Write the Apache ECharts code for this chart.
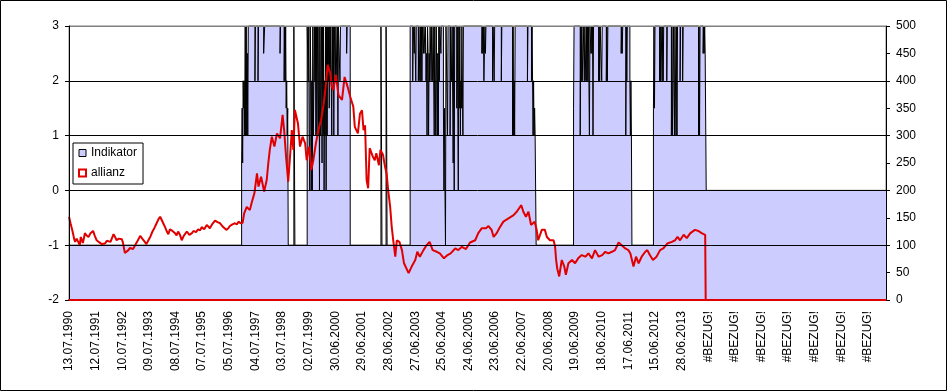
<!DOCTYPE html>
<html>
<head>
<meta charset="utf-8">
<script src="https://cdn.jsdelivr.net/npm/echarts@6/dist/echarts.min.js"></script>
<style>
html,body{margin:0;padding:0;background:#fff;}
#chart{width:948px;height:392px;}
</style>
</head>
<body>
<div id="chart"></div>
<script>
// x values are week numbers counted from 13.07.1990 (52 weeks between tick labels)
const tickLabels = ['13.07.1990','12.07.1991','10.07.1992','09.07.1993','08.07.1994','07.07.1995','05.07.1996','04.07.1997','03.07.1998','02.07.1999','30.06.2000','29.06.2001','28.06.2002','27.06.2003','25.06.2004','24.06.2005','23.06.2006','22.06.2007','20.06.2008','19.06.2009','18.06.2010','17.06.2011','15.06.2012','28.06.2013','#BEZUG!','#BEZUG!','#BEZUG!','#BEZUG!','#BEZUG!','#BEZUG!','#BEZUG!'];
const weeksPerLabel = 52;
const lastWeek = 1595;

// Indikator: [week, value] – value holds from that week until the next entry
const indikator = [
[0,-1],
[337,0.5],[338,1.5],[339,0.5],[340,2],[341,1.5],[342,2],[343,1],[344,3],[345,1],[346,3],[347,1],[348,2.5],[349,1],[350,3],
[363,2],[364,3],[369,2],[370,3],[380,2.5],[382,3],[412,2.5],[413,3],[420,2],[421,3],
[422,2],[423,3],[424,1.5],[425,2],[426,1],[427,1.5],[428,-1],
[439,3],[441,-1],
[465,3],[467,2],[468,3],[469,1],[470,0],[471,3],[472,2],[473,0],[474,2],[475,0],[476,3],[477,1],[478,2],[479,3],[480,2],[481,3],[482,1],[483,3],
[484,1],[485,3],[486,2],[487,1],[488,3],[489,0],[490,3],[491,1],[492,2],[493,3],[494,0.5],[495,3],[496,1],[497,3],[498,0],[499,2],[500,1],[501,3],[502,0],[503,3],[504,1],[505,3],
[506,2],[507,3],[508,1.5],[509,3],[510,2],[511,3],[513,1],[514,3],[515,2],[516,3],[517,1],[518,3],[520,2],[521,3],[523,2],[524,3],[525,1],[526,3],[529,2],[530,3],[542,2.5],[543,3],[549,-1],
[609,3],[611,-1],[619,3],[620,1.5],[621,-1],
[666,3],[671,2],[672,3],[674,2.5],[675,3],[677,2],[678,3],[682,2],[683,3],[685,2],[686,3],[687,2],[688,3],[689,2],[690,3],[692,2.5],[693,3],
[695,2.5],[696,3],[697,2],[698,2.5],[699,1],[700,3],[701,2.5],[702,1],[703,2.5],[704,2],[705,3],[707,2],[708,3],[710,2],[711,3],
[713,1],[714,3],[716,1],[717,3],[719,1],[720,2.5],[721,1],[722,3],[723,2],[724,3],[726,2.5],[727,3],
[731,1.5],[732,0],[733,1.5],[734,0],[735,-1],[736,3],
[739,1],[740,3],[744,1],[745,3],[747,2],[748,3],[750,0.5],[751,3],[752,0],[753,3],[757,1.5],[758,3],[760,0],[761,3],
[762,1.5],[763,3],[764,1],[765,2],[766,1.5],[767,3],[769,1],[770,3],
[806,2.5],[807,3],[808,2.5],[809,3],[810,2],[811,2.5],[812,3],[813,2.5],[814,3],
[827,2],[828,3],[830,2],[831,3],[844,2],[845,3],
[866,1],[867,3],[868,1],[869,2],[870,1],[871,3],[895,2],[896,3],
[903,2],[904,3],[905,2],[906,1],[907,2],[908,1],[909,1.5],[910,1],[912,-1],
[985,1.5],[986,3],
[998,1],[999,3],[1000,2],[1001,3],[1002,2],[1003,2.5],[1004,3],[1006,2],[1007,3],
[1009,2],[1010,3],[1011,2],[1012,3],[1013,2],[1014,3],[1016,1],[1017,3],
[1019,2.5],[1020,3],[1021,2.5],[1022,3],[1023,1],[1024,3],
[1034,2],[1035,3],[1036,2],[1037,3],[1040,2],[1041,3],[1049,2],[1050,3],[1051,2],[1052,3],
[1078,2.5],[1079,3],[1080,2.5],[1081,3],[1087,1],[1088,3],[1089,2],[1090,3],
[1095,2],[1096,1],[1097,2],[1098,1],[1099,-1],
[1141,1.5],[1142,3],[1143,1.5],[1144,3],
[1153,2],[1154,3],[1155,2],[1156,3],[1158,2],[1159,3],[1160,2],[1161,3],[1167,2],[1168,3],
[1176,1],[1177,3],[1178,1],[1179,2],[1180,3],[1182,1],[1183,3],[1185,1],[1186,3],[1187,1],[1188,3],
[1193,2],[1194,3],[1198,2],[1199,3],[1229,1],[1230,3],[1231,1],[1232,3],
[1238,2.5],[1239,3],[1240,2.5],[1241,3],[1242,2.5],[1244,0],[1595,0]
];

// allianz: [week, price] on the right axis
const allianz = [
[0,152],[3,140],[7,125],[10,112],[12,106],[15,112],[18,109],[21,100],[23,115],[25,110],[27,104],[29,112],[31,122],[34,118],[38,115],[42,122],[47,126],[50,118],[54,109],[58,106],[64,102],[67,100],[70,103],[74,108],[77,111],[81,106],[87,120],[90,115],[93,109],[97,112],[100,115],[103,111],[105,106],[107,96],[109,86],[112,88],[116,91],[119,95],[122,97],[125,93],[129,100],[134,108],[139,117],[143,112],[148,106],[151,102],[155,109],[159,116],[163,125],[167,132],[171,140],[175,148],[178,152],[181,146],[184,140],[188,132],[191,125],[194,120],[197,129],[202,126],[207,122],[210,118],[213,125],[217,118],[220,109],[224,117],[230,125],[235,119],[240,122],[243,126],[248,124],[252,129],[256,127],[259,133],[264,129],[269,137],[272,134],[275,131],[280,139],[285,145],[290,142],[295,140],[301,133],[307,128],[311,131],[314,135],[319,138],[324,140],[328,138],[331,143],[335,140],[339,141],
[342,158],[347,170],[353,164],[357,179],[362,195],[367,231],[370,207],[375,225],[381,198],[386,219],[389,249],[392,274],[396,298],[401,280],[406,304],[412,295],[417,338],[420,310],[424,259],[428,216],[432,268],[435,310],[438,274],[441,347],[447,322],[451,280],[456,298],[461,286],[464,255],[469,280],[473,237],[477,255],[482,286],[487,310],[492,328],[497,356],[501,389],[505,429],[510,414],[513,389],[516,383],[521,411],[526,374],[533,365],[538,407],[544,389],[549,371],[555,353],[558,316],[564,304],[568,340],[572,346],[575,310],[578,319],[581,219],[584,204],[587,277],[593,262],[597,255],[600,268],[605,246],[608,274],[613,265],[617,243],[620,231],[623,201],[627,170],[630,134],[633,109],[637,79],[640,109],[645,106],[650,91],[654,67],[663,49],[669,61],[676,73],[680,88],[685,79],[692,91],[698,100],[704,106],[710,91],[718,88],[724,85],[732,76],[739,82],[745,85],[754,94],[760,91],[767,97],[775,93],[783,105],[793,109],[799,122],[806,131],[814,131],[819,135],[825,128],[829,115],[835,122],[840,131],[848,143],[858,149],[868,155],[874,161],[883,173],[887,161],[892,152],[897,161],[902,137],[909,143],[913,128],[916,109],[923,128],[929,128],[933,115],[939,109],[946,109],[949,97],[951,73],[953,58],[957,43],[962,73],[967,61],[970,46],[975,67],[982,73],[988,67],[994,76],[1001,82],[1008,79],[1014,85],[1021,76],[1027,91],[1034,79],[1041,82],[1047,88],[1053,85],[1060,88],[1066,91],[1073,105],[1079,100],[1086,94],[1092,91],[1096,85],[1099,73],[1102,61],[1107,79],[1112,67],[1118,79],[1125,88],[1129,91],[1134,82],[1140,73],[1147,79],[1154,91],[1160,94],[1168,103],[1177,106],[1183,109],[1188,115],[1193,109],[1200,119],[1206,113],[1213,122],[1222,128],[1229,126],[1235,122],[1242,119],[1243,0],[1595,0]
];

const FONT = "'Liberation Sans', Arial, sans-serif";
const RED = '#e00000';
const FILL = '#ccccff';

const chart = echarts.init(document.getElementById('chart'), null, {renderer: 'canvas'});
chart.setOption({
  animation: false,
  backgroundColor: '#fff',
  grid: {left: 69, right: 62, top: 26, bottom: 92, show: true, borderColor: '#808080', borderWidth: 1, backgroundColor: 'transparent'},
  legend: {
    orient: 'vertical', left: 73, top: 143,
    padding: [4, 6, 5, 5], itemGap: 8, itemWidth: 7, itemHeight: 7,
    backgroundColor: '#fff', borderColor: '#000', borderWidth: 1, borderRadius: 0,
    textStyle: {fontSize: 12, color: '#000', fontFamily: FONT},
    data: [
      {name: 'Indikator', icon: 'rect', itemStyle: {color: FILL, borderColor: '#000', borderWidth: 1}},
      {name: 'allianz', icon: 'rect', itemStyle: {color: '#fff', borderColor: RED, borderWidth: 2}}
    ]
  },
  xAxis: {
    type: 'value', min: 0, max: lastWeek, interval: weeksPerLabel, z: 10,
    axisLine: {show: true, onZero: false, lineStyle: {color: RED, width: 2}},
    axisTick: {show: false},
    splitLine: {show: false},
    axisLabel: {
      rotate: 90, margin: 11, fontSize: 12, color: '#000', fontFamily: FONT,
      showMaxLabel: false,
      formatter: function (v) {
        if (v % weeksPerLabel !== 0) return '';
        const i = v / weeksPerLabel;
        return tickLabels[i] || '';
      }
    }
  },
  yAxis: [
    {
      type: 'value', min: -2, max: 3, interval: 1, position: 'left', z: 10,
      axisLine: {show: true, lineStyle: {color: '#000', width: 1}},
      axisTick: {show: true, length: 4, lineStyle: {color: '#000'}},
      axisLabel: {margin: 10, fontSize: 12, color: '#000', fontFamily: FONT},
      splitLine: {show: true, lineStyle: {color: ['#000', '#000', '#000', '#000', '#000', '#808080'], width: 1}}
    },
    {
      type: 'value', min: 0, max: 500, interval: 50, position: 'right', z: 10,
      axisLine: {show: true, lineStyle: {color: '#000', width: 1}},
      axisTick: {show: true, length: 4, lineStyle: {color: '#000'}},
      axisLabel: {margin: 10, fontSize: 12, color: '#000', fontFamily: FONT},
      splitLine: {show: false}
    }
  ],
  series: [
    {
      name: 'Indikator', type: 'line', yAxisIndex: 0, step: 'end',
      data: indikator, showSymbol: false, symbol: 'none',
      lineStyle: {color: '#000', width: 1},
      itemStyle: {color: FILL},
      areaStyle: {color: FILL, opacity: 1, origin: 'start'},
      z: 2
    },
    {
      name: 'allianz', type: 'line', yAxisIndex: 1,
      data: allianz, showSymbol: false, symbol: 'none',
      lineStyle: {color: RED, width: 2},
      itemStyle: {color: RED},
      z: 3
    }
  ],
  graphic: [
    {type: 'rect', shape: {x: 0.5, y: 0.5, width: 946, height: 390}, style: {fill: 'none', stroke: '#000', lineWidth: 1}, silent: true, z: 100}
  ]
});
</script>
</body>
</html>
